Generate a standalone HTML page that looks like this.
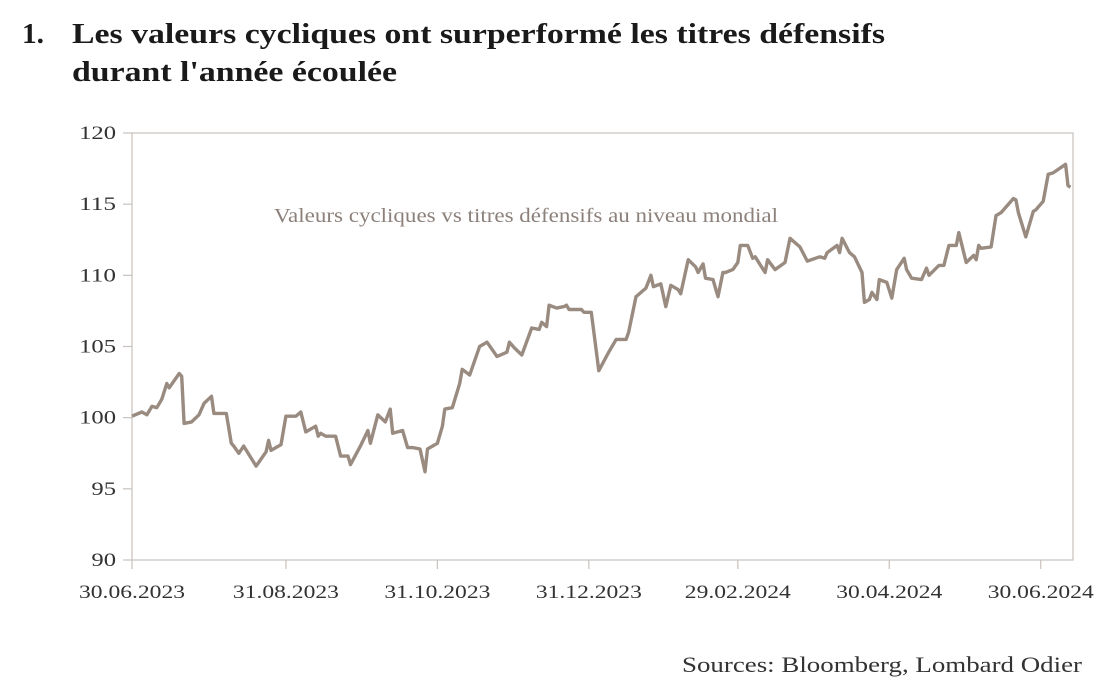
<!DOCTYPE html>
<html><head><meta charset="utf-8"><style>
body{margin:0;background:#fff;width:1111px;height:692px;overflow:hidden;font-family:"Liberation Serif",serif}
</style></head><body>
<svg width="1111" height="692" xmlns="http://www.w3.org/2000/svg">
<text x="22" y="43" font-size="28" font-weight="bold" fill="#1a1a1a" textLength="22" lengthAdjust="spacingAndGlyphs">1.</text>
<text x="72" y="43" font-size="29" font-weight="bold" fill="#1a1a1a" textLength="813" lengthAdjust="spacingAndGlyphs">Les valeurs cycliques ont surperformé les titres défensifs</text>
<text x="72" y="81" font-size="29" font-weight="bold" fill="#1a1a1a" textLength="325" lengthAdjust="spacingAndGlyphs">durant l'année écoulée</text>
<g id="axes"></g>
<text x="274" y="222" font-size="20" fill="#8c807a" textLength="504" lengthAdjust="spacingAndGlyphs">Valeurs cycliques vs titres défensifs au niveau mondial</text>
<text x="1082" y="672" font-size="22" fill="#333" text-anchor="end" textLength="400" lengthAdjust="spacingAndGlyphs">Sources: Bloomberg, Lombard Odier</text>
</svg>
<script>
const days=[0,4,6,8,10,12,14,15,19,20,21,24,27,29,32,33,38,40,41,43,45,50,54,55,56,60,62,66,68,70,74,75,76,78,82,84,87,88,92,95,96,99,102,104,105,109,111,113,116,118,119,123,125,126,129,132,133,136,140,143,145,147,151,152,154,157,161,164,165,167,168,171,174,175,176,181,182,185,188,192,195,199,200,203,207,209,210,213,215,217,220,221,224,227,228,230,231,234,236,238,239,242,244,245,248,250,251,255,256,259,263,265,269,272,277,279,280,284,285,286,289,291,294,295,297,298,300,301,304,306,308,311,312,314,318,320,321,325,327,329,332,333,336,339,340,341,342,346,348,350,355,356,357,360,363,364,367,369,371,376,377,378];
const values=[100.1,100.4,100.2,100.8,100.7,101.3,102.4,102.1,103.1,102.9,99.6,99.7,100.2,101.0,101.5,100.3,100.3,98.2,98.0,97.5,98.0,96.6,97.6,98.4,97.7,98.1,100.1,100.1,100.4,99.0,99.4,98.7,98.9,98.7,98.7,97.3,97.3,96.7,98.0,99.1,98.2,100.2,99.7,100.6,98.9,99.1,97.9,97.9,97.8,96.2,97.8,98.2,99.4,100.6,100.7,102.4,103.4,103.0,105.0,105.3,104.8,104.3,104.6,105.3,104.9,104.4,106.3,106.2,106.7,106.4,107.9,107.7,107.8,107.9,107.6,107.6,107.4,107.4,103.3,104.6,105.5,105.5,106.0,108.5,109.1,110.0,109.2,109.4,107.8,109.3,109.0,108.7,111.1,110.6,110.2,110.8,109.8,109.7,108.5,110.2,110.2,110.4,110.9,112.1,112.1,111.2,111.3,110.2,111.1,110.4,110.9,112.6,112.0,111.0,111.3,111.2,111.6,112.1,111.6,112.6,111.6,111.3,110.2,108.1,108.3,108.8,108.3,109.7,109.5,108.4,110.4,111.2,110.4,109.8,109.7,110.5,110.0,110.7,110.7,112.1,112.1,113.0,110.9,111.4,111.1,112.1,111.9,112.0,114.2,114.4,115.4,115.3,114.4,112.7,114.5,114.6,115.2,117.1,117.2,117.8,116.3,116.2];
const xTickDays=[0,62,123,184,244,305,366];
const xTickLabels=["30.06.2023","31.08.2023","31.10.2023","31.12.2023","29.02.2024","30.04.2024","30.06.2024"];
const yTicks=[90,95,100,105,110,115,120];

const X0=132,X1=1073,Y0=560,Y1=133,DMAX=379,VMIN=90,VMAX=120;
const xs=d=>X0+(d/DMAX)*(X1-X0);
const ys=v=>Y0-(v-VMIN)/(VMAX-VMIN)*(Y0-Y1);
const NS="http://www.w3.org/2000/svg";
const g=document.getElementById('axes');
function mk(t,a){const e=document.createElementNS(NS,t);for(const k in a)e.setAttribute(k,a[k]);g.appendChild(e);return e;}
const ac="#c9c1bd";
let e=mk('rect',{x:X0,y:Y1,width:X1-X0,height:Y0-Y1,fill:'none',stroke:ac,'stroke-width':1.2});


yTicks.forEach(v=>{
  let t=mk('line',{x1:X0-9,x2:X0,y1:ys(v),y2:ys(v),stroke:ac,'stroke-width':1.2});
  
  
  const s=String(v);
  let l=mk('text',{x:X0-16,y:ys(v)+6,'font-size':19,'text-anchor':'end',fill:'#333',textLength:s.length*12.3,lengthAdjust:'spacingAndGlyphs'});
  l.textContent=s;
  
  
});
xTickDays.forEach((d,i)=>{
  let t=mk('line',{x1:xs(d),x2:xs(d),y1:Y0,y2:Y0+9,stroke:ac,'stroke-width':1.2});
  
  
  let l=mk('text',{x:xs(d),y:Y0+38,'font-size':19,'text-anchor':'middle',fill:'#333',textLength:106,lengthAdjust:'spacingAndGlyphs'});
  l.textContent=xTickLabels[i];
  
  
});
const p=mk('polyline',{points:days.map((d,i)=>xs(d).toFixed(1)+','+ys(values[i]).toFixed(1)).join(' '),fill:'none',stroke:'#9a8b81','stroke-width':3.4,'stroke-linejoin':'round'});


</script>
</body></html>
